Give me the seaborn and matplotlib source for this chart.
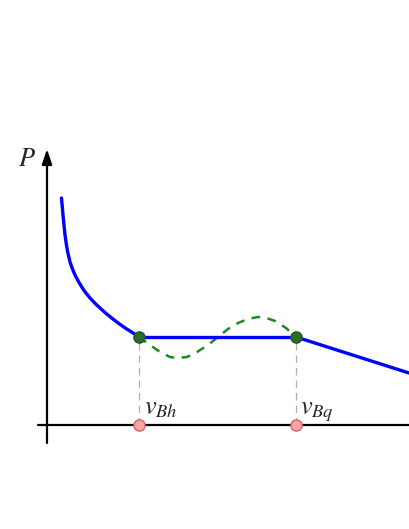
import matplotlib
matplotlib.use("Agg")
import matplotlib.pyplot as plt
import seaborn as sns
import pandas as pd

# Isotherm (v, P in arbitrary units)
left_v = [1.45, 1.53, 1.6, 1.7, 1.8, 1.93, 2.07, 2.3, 2.55, 2.8, 3.2, 3.7,
          4.3, 4.8, 5.3, 5.9, 6.6, 7.3, 8.0, 8.6, 9.2]
left_p = [22.7, 21.8, 21.0, 20.0, 19.0, 18.1, 17.3, 16.3, 15.6, 15.0, 14.25, 13.45,
          12.7, 12.17, 11.7, 11.16, 10.59, 10.06, 9.58, 9.21, 8.8]

v_bh = 9.2
v_bq = 24.9
p_sat = 8.8

right_v = [24.9, 36.2]
right_p = [8.8, 5.2]

# van der Waals loop (green dashed)
wave_v = [9.2, 10.3, 11.3, 12.3, 13.0, 14.0, 15.0, 16.1, 17.1, 18.1, 19.1, 20.1, 21.1, 21.8, 22.8, 23.9, 24.9]
wave_p = [8.8, 8.0, 7.3, 6.8, 6.7, 6.8, 7.3, 8.0, 8.8, 9.6, 10.2, 10.6, 10.8, 10.75, 10.4, 9.7, 8.8]

sns.set_style("white")
plt.rcParams["mathtext.fontset"] = "stix"

fig = plt.figure(figsize=(4.09, 5.29), dpi=100)
ax = fig.add_axes([0, 0, 1, 1])
ax.set_xlim(-4.7, 36.2)
ax.set_ylim(-10.4, 42.5)
ax.axis("off")

# axes
ax.annotate("", xy=(0, 27.6), xytext=(0, -1.8),
            arrowprops=dict(arrowstyle="-|>,head_length=0.9,head_width=0.3",
                            lw=1.6, color="black", shrinkA=0, shrinkB=0))
ax.plot([-0.9, 36.2], [0, 0], color="black", lw=1.6)

# grey guide lines
for v in [v_bh, v_bq]:
    ax.plot([v, v], [0, p_sat], color="#b0b0b0", lw=0.9, ls=(0, (6, 4)))

# wave
sns.lineplot(x=wave_v, y=wave_p, sort=False, color="#1f8a1f", lw=1.8,
             ls=(0, (3.5, 3)), ax=ax)

# blue isotherm
line_kw = dict(sort=False, color="#0000ff", lw=2.4, solid_joinstyle="round",
               solid_capstyle="round", ax=ax)
sns.lineplot(x=left_v, y=left_p, **line_kw)
sns.lineplot(x=[v_bh, v_bq], y=[p_sat, p_sat], **line_kw)
sns.lineplot(x=right_v, y=right_p, **line_kw)

# points
pts = pd.DataFrame({"v": [v_bh, v_bq], "p": [p_sat, p_sat]})
sns.scatterplot(data=pts, x="v", y="p", s=65, color="#2b6b2b",
                edgecolor="#1d5a1d", linewidth=1, zorder=5, ax=ax)
sns.scatterplot(x=[v_bh, v_bq], y=[0, 0], s=65, color="#f6a5a5",
                edgecolor="#e06060", linewidth=1, zorder=5, ax=ax)

# labels
ax.text(-2.9, 25.9, "$P$", fontsize=19, ha="left", va="baseline")
ax.text(v_bh + 0.55, 1.1, "$v_{Bh}$", fontsize=19, ha="left", va="baseline")
ax.text(v_bq + 0.45, 1.1, "$v_{Bq}$", fontsize=19, ha="left", va="baseline")

fig.savefig("out.png", dpi=100)
